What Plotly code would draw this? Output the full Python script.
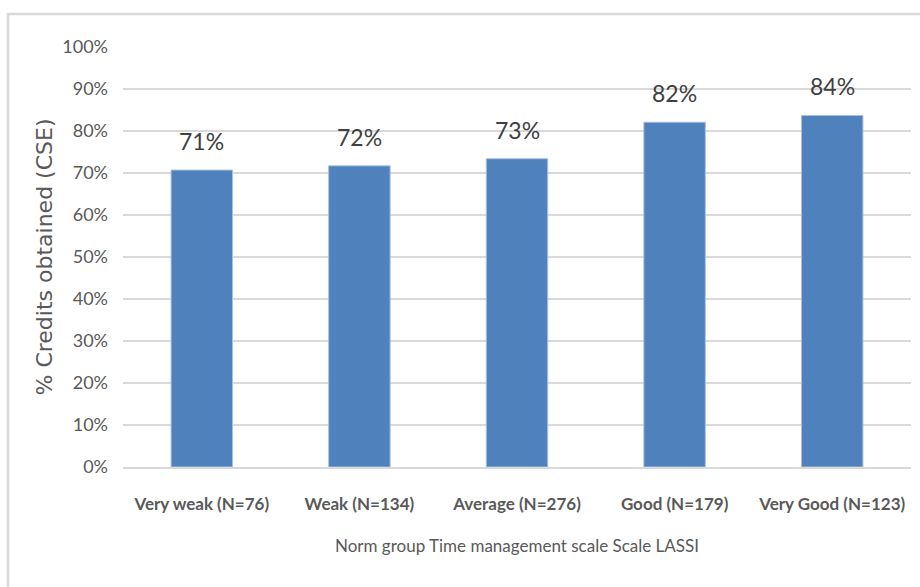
import plotly.graph_objects as go

# Norm groups of the LASSI time management scale
categories = ["Very weak (N=76)", "Weak (N=134)", "Average (N=276)",
              "Good (N=179)", "Very Good (N=123)"]
# Share of credits obtained per group
credits = [0.707, 0.717, 0.734, 0.821, 0.837]
y_ticks = [0, 0.1, 0.2, 0.3, 0.4, 0.5, 0.6, 0.7, 0.8, 0.9, 1.0]

NARROW = "Lato, Roboto, sans-serif"
BAR = "#4f81bd"
GRID = "#d9d9d9"

fig = go.Figure(
    go.Bar(
        x=categories,
        y=credits,
        marker=dict(color=BAR, line=dict(color="#a9c0dd", width=1)),
        width=0.39,
        hoverinfo="skip",
    )
)

# Value labels above each bar
for cat, val in zip(categories, credits):
    fig.add_annotation(
        x=cat, y=val, text=f"{val:.0%}", showarrow=False,
        yanchor="bottom", yshift=13,
        font=dict(family=NARROW, size=23, color="#404040"),
    )

# Light frame along the top and left edges
L, R, T, B = 123, 9, 47, 120
W, H = 920 - L - R, 587 - T - B
fig.add_shape(
    type="rect", xref="paper", yref="paper",
    x0=(8 - L) / W, x1=(930 - L) / W,
    y0=(587 - B - 600) / H, y1=(587 - B - 14) / H,
    line=dict(color=GRID, width=2.5), fillcolor="rgba(0,0,0,0)", layer="below",
)

fig.update_layout(
    width=920, height=587,
    margin=dict(l=L, r=R, t=T, b=B, autoexpand=False),
    paper_bgcolor="white", plot_bgcolor="white",
    showlegend=False,
    xaxis=dict(
        showline=True, linecolor=GRID, linewidth=1.5,
        showgrid=False, ticks="", tickangle=0, automargin=False,
        ticklabelstandoff=21,
        tickfont=dict(family=NARROW, size=17, color="#595959", weight="bold"),
        title=dict(text="Norm group Time management scale Scale LASSI",
                   font=dict(family=NARROW, size=17, color="#595959"),
                   standoff=27),
    ),
    yaxis=dict(
        range=[0, 1], tickvals=y_ticks, tickformat=".0%",
        showgrid=True, gridcolor=GRID, gridwidth=1.5,
        zeroline=False, showline=False, ticks="", automargin=False,
        ticklabelstandoff=14,
        tickfont=dict(family=NARROW, size=18, color="#595959"),
        title=dict(text="% Credits obtained (CSE)",
                   font=dict(family="DejaVu Sans", size=22, color="#595959"),
                   standoff=3),
    ),
)

fig.write_html("out.html")
